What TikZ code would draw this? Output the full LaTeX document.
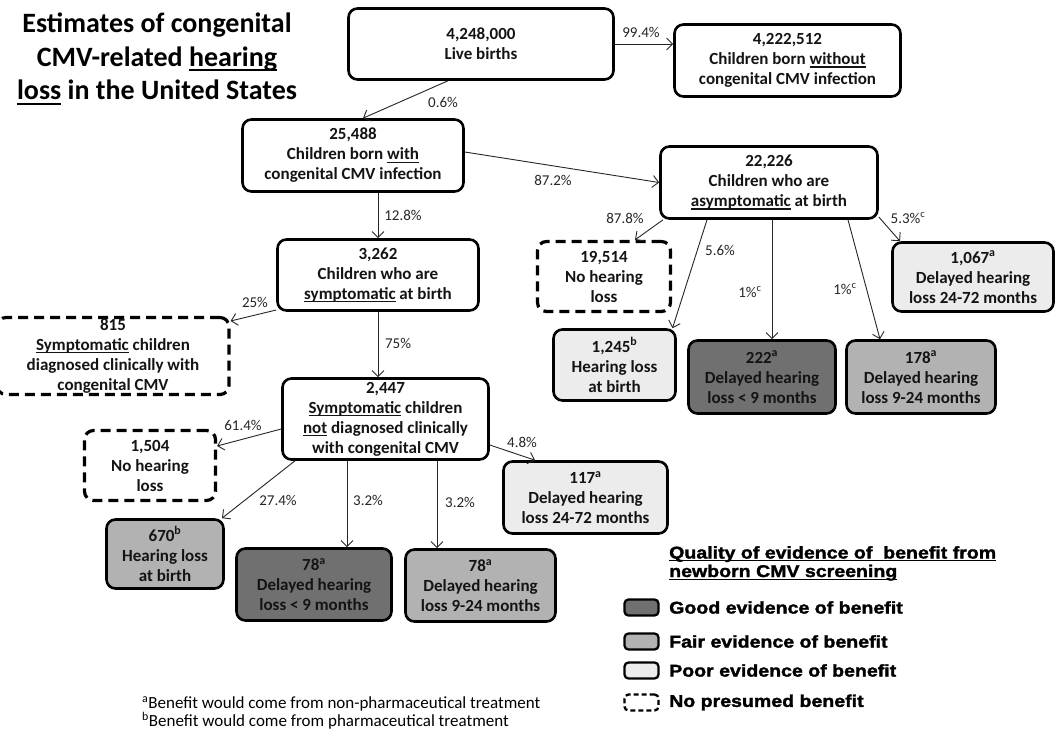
\documentclass[tikz,border=0pt]{standalone}
\usepackage{fontspec}
\setmainfont{Carlito}
\newfontfamily\legfont[FakeStretch=1.15,FakeBold=1.8]{Liberation Sans}
\usetikzlibrary{arrows.meta}
\definecolor{gdark}{RGB}{112,112,112}
\definecolor{gmid}{RGB}{178,178,178}
\definecolor{glight}{RGB}{236,236,236}
\definecolor{ink}{RGB}{20,20,20}
\newcommand\boxfont{\fontsize{17}{20}\selectfont\bfseries}
\newcommand\pctfont{\fontsize{15}{17}\selectfont}
\newcommand\myul[1]{\leavevmode\setbox0=\hbox{#1}\rlap{\raisebox{-0.17em}{\rule{\wd0}{0.075em}}}\box0\relax}
\tikzset{
  box/.style={draw=black, line width=2.6pt, rounded corners=9pt, align=center,
    inner sep=1pt, font=\boxfont, text=ink},
  sz/.style 2 args={minimum width=#1, minimum height=#2},
  plain/.style={box, fill=white},
  good/.style={box, fill=gdark},
  fair/.style={box, fill=gmid},
  poor/.style={box, fill=glight},
  nob/.style={box, fill=white, line width=3.2pt, dash pattern=on 10pt off 6pt},
  arr/.style={-{Straight Barb[length=6pt,width=12pt]}, line width=0.9pt, draw=black!85},
  pct/.style={font=\pctfont, inner sep=0pt, text=black!85},
  legsq/.style={rounded corners=4pt, line width=2.3pt, minimum width=34pt, minimum height=16pt, inner sep=0pt},
  legitem/.style={font=\legfont\bfseries\fontsize{17}{20}\selectfont, inner sep=0pt, anchor=west, text=black},
}
\begin{document}
\begin{tikzpicture}[x=1pt,y=-1pt]
\useasboundingbox[fill=white] (0,0) rectangle (1058,733);

% title
\node[font=\bfseries\fontsize{28}{33.5}\selectfont, align=center, inner sep=0pt, text=black] (title) at (157,59)
  {Estimates of congenital\\CMV-related \myul{hearing}\\\myul{loss} in the United States};

% boxes
\node[plain, sz={265pt}{71pt}] (live) at (481,44) {4,248,000\\Live births};
\node[plain, sz={226pt}{72pt}] (without) at (787.5,60.5) {4,222,512\\Children born \myul{without}\\congenital CMV infection};
\node[plain, sz={221pt}{72pt}] (with) at (353,155.5) {25,488\\Children born \myul{with}\\congenital CMV infection};
\node[plain, sz={217pt}{72pt}] (asym) at (769,182.5) {22,226\\Children who are\\\myul{asymptomatic} at birth};
\node[plain, sz={201pt}{71pt}] (symp) at (378,275) {3,262\\Children who are\\\myul{symptomatic} at birth};
\node[nob, sz={232pt}{77pt}] (d815) at (113,356) {815\\\myul{Symptomatic} children\\diagnosed clinically with\\congenital CMV};
\node[plain, sz={206pt}{81pt}] (notdiag) at (385.5,419) {2,447\\\myul{Symptomatic} children\\\myul{not} diagnosed clinically\\with congenital CMV};
\node[nob, sz={131pt}{70pt}] (d1504) at (150,465.5) {1,504\\No hearing\\loss};
\node[fair, sz={117pt}{69pt}] (hl670) at (165,554) {670\textsuperscript{b}\\Hearing loss\\at birth};
\node[good, sz={155pt}{72pt}] (g78) at (314,584.5) {78\textsuperscript{a}\\Delayed hearing\\loss < 9 months};
\node[fair, sz={150pt}{72pt}] (f78) at (480.5,585.5) {78\textsuperscript{a}\\Delayed hearing\\loss 9-24 months};
\node[poor, sz={164pt}{72pt}] (p117) at (585.5,497.5) {117\textsuperscript{a}\\Delayed hearing\\loss 24-72 months};
\node[nob, sz={133pt}{70pt}] (d19514) at (604,276.5) {19,514\\No hearing\\loss};
\node[poor, sz={122pt}{71pt}] (p1245) at (614.5,365) {1,245\textsuperscript{b}\\Hearing loss\\at birth};
\node[good, sz={147pt}{73pt}] (g222) at (762,377) {222\textsuperscript{a}\\Delayed hearing\\loss < 9 months};
\node[fair, sz={149pt}{73pt}] (f178) at (921,377) {178\textsuperscript{a}\\Delayed hearing\\loss 9-24 months};
\node[poor, sz={161pt}{69pt}] (p1067) at (973,277) {1,067\textsuperscript{a}\\Delayed hearing\\loss 24-72 months};

% connectors
\draw[arr] ([xshift=-33pt]live.south) -- ([xshift=10pt]with.north);
\draw[arr] (live.east) -- (without.west |- live.east);
\draw[arr] ([yshift=3.5pt]with.east) -- (asym.west);
\draw[arr] (symp.north |- with.south) -- (symp.north);
\draw[arr] ([yshift=-35pt]symp.west) -- ([yshift=35pt]d815.east);
\draw[arr] (symp.south) -- (symp.south |- notdiag.north);
\draw[arr] ([yshift=-10pt]notdiag.west) -- ([yshift=19.5pt]d1504.east);
\draw[arr] ([xshift=-90.5pt]notdiag.south) -- ([xshift=57pt]hl670.north);
\draw[arr] ([xshift=-38.5pt]notdiag.south) -- ([xshift=33pt]g78.north);
\draw[arr] ([xshift=51.5pt]notdiag.south) -- ([xshift=-43.5pt]f78.north);
\draw[arr] ([yshift=-26pt]notdiag.east) -- ([xshift=-50.5pt]p117.north);
\draw[arr] ([xshift=-106pt]asym.south) -- ([xshift=31pt]d19514.north);
\draw[arr] ([xshift=-62pt]asym.south) -- ([xshift=58pt]p1245.north);
\draw[arr] ([xshift=3pt]asym.south) -- ([xshift=10pt]g222.north);
\draw[arr] ([xshift=79pt]asym.south) -- ([xshift=-41pt]f178.north);
\draw[arr] ([yshift=-34.5pt]asym.east) -- ([xshift=-73pt]p1067.north);

% percentage labels
\node[pct] (l1) at (443,102) {0.6\%};
\node[pct] (l2) at (641,32) {99.4\%};
\node[pct] (l3) at (553,180) {87.2\%};
\node[pct] (l4) at (403,215) {12.8\%};
\node[pct] (l5) at (255,302) {25\%};
\node[pct] (l6) at (398,343) {75\%};
\node[pct] (l7) at (243,425) {61.4\%};
\node[pct] (l8) at (278,500) {27.4\%};
\node[pct] (l9) at (368,500) {3.2\%};
\node[pct] (l10) at (460,502) {3.2\%};
\node[pct] (l11) at (522,442) {4.8\%};
\node[pct] (l12) at (625,218) {87.8\%};
\node[pct] (l13) at (720,250) {5.6\%};
\node[pct] (l14) at (750,292) {1\%\textsuperscript{c}};
\node[pct] (l15) at (845,289) {1\%\textsuperscript{c}};
\node[pct] (l16) at (908,218) {5.3\%\textsuperscript{c}};

% legend
\node[font=\legfont\bfseries\fontsize{17}{18.5}\selectfont, align=left, inner sep=0pt, anchor=north west, text=black] (legtitle) at (669,546)
  {\myul{Quality of evidence of\ \ benefit from}\\\myul{newborn CMV screening}};
\node[legsq, draw=black, fill=gdark] (sq1) at (641.5,607.5) {};
\node[legsq, draw=black, fill=gmid] (sq2) at (641.5,641.5) {};
\node[legsq, draw=black, fill=glight] (sq3) at (641.5,670.5) {};
\node[legsq, draw=black, fill=white, dash pattern=on 5pt off 3pt] (sq4) at (641.5,702.5) {};
\node[legitem] (t1) at (669,607.5) {Good evidence of benefit};
\node[legitem] (t2) at (669,641.5) {Fair evidence of benefit};
\node[legitem] (t3) at (669,670.5) {Poor evidence of benefit};
\node[legitem] (t4) at (669,702.5) {No presumed benefit};

% footnotes
\node[font=\fontsize{17}{18}\selectfont, align=left, inner sep=0pt, anchor=west, text=black] (foot) at (142,713)
  {\textsuperscript{a}Benefit would come from non-pharmaceutical treatment\\\textsuperscript{b}Benefit would come from pharmaceutical treatment};
\end{tikzpicture}
\end{document}
